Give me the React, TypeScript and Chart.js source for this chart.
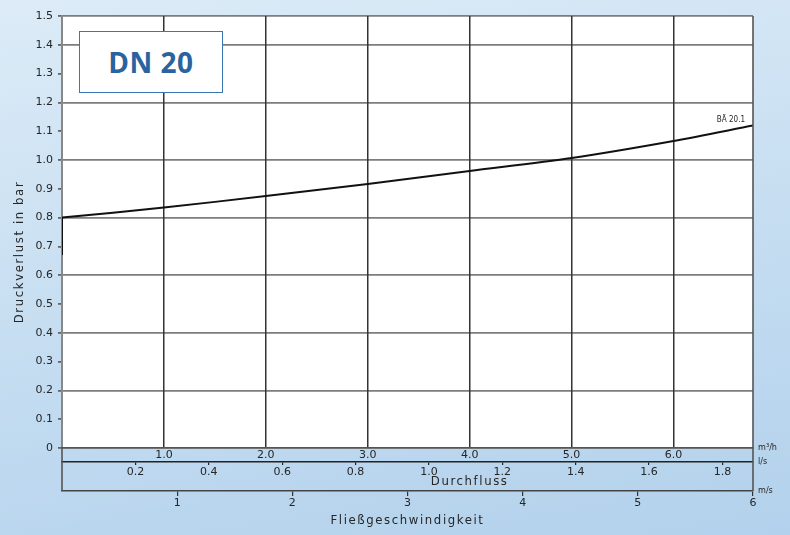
import React, { useEffect, useRef } from "react";
import { Chart, registerables } from "chart.js";

Chart.register(...registerables);

// ---- data ----
const curveFlowM3h = [0, 1, 2, 3, 4, 5, 6, 6.78];
const curvePressureBar = [0.8, 0.835, 0.875, 0.917, 0.962, 1.007, 1.066, 1.12];
const startFlowM3h = [0, 0];
const startPressureBar = [0.67, 0.8];
const curveLabel = "BÄ 20.1";

const pressureTicks = [0, 0.1, 0.2, 0.3, 0.4, 0.5, 0.6, 0.7, 0.8, 0.9, 1.0, 1.1, 1.2, 1.3, 1.4, 1.5];
const flowM3hTicks = [1, 2, 3, 4, 5, 6];
const flowLsTicks = [0.2, 0.4, 0.6, 0.8, 1.0, 1.2, 1.4, 1.6, 1.8];
const velocityTicks = [1, 2, 3, 4, 5, 6];

const flowM3hMax = 6.78;
const velocityMax = 6;

const title = "DN 20";
const yTitle = "Druckverlust in bar";
const flowTitle = "Durchfluss";
const velocityTitle = "Fließgeschwindigkeit";
const unitM3h = "m³/h";
const unitLs = "l/s";
const unitMs = "m/s";

const FONT = "'DejaVu Sans Condensed', 'DejaVu Sans', sans-serif";
const TICK_FONT = "'DejaVu Sans', sans-serif";
const TEXT = "#262626";

const setTicks = (arr: number[]) => (scale: any) => {
  scale.ticks = arr.map((v) => ({ value: v }));
};

const decorPlugin = {
  id: "decor",
  beforeDraw(chart: any) {
    const { ctx, chartArea } = chart;
    ctx.save();
    ctx.fillStyle = "#ffffff";
    ctx.fillRect(chartArea.left, chartArea.top, chartArea.right - chartArea.left, chartArea.bottom - chartArea.top);
    ctx.restore();
  },
  afterDraw(chart: any) {
    const { ctx, chartArea, scales } = chart;
    const x = scales.x, x2 = scales.x2, x3 = scales.x3;
    const midX = (chartArea.left + chartArea.right) / 2;
    const midY = (chartArea.top + chartArea.bottom) / 2;
    ctx.save();
    // side borders extending through the secondary axes
    ctx.strokeStyle = "#555";
    ctx.lineWidth = 1.6;
    ctx.beginPath();
    ctx.moveTo(chartArea.left, chartArea.bottom);
    ctx.lineTo(chartArea.left, x3.top);
    ctx.moveTo(chartArea.right, chartArea.top);
    ctx.lineTo(chartArea.right, x3.top);
    ctx.stroke();

    // units
    ctx.fillStyle = TEXT;
    ctx.font = `9px ${FONT}`;
    ctx.textAlign = "left";
    ctx.textBaseline = "middle";
    ctx.fillText(unitM3h, chartArea.right + 5, x.top);
    ctx.fillText(unitLs, chartArea.right + 5, x2.top);
    ctx.fillText(unitMs, chartArea.right + 5, x3.top);

    // axis titles (letter-spaced technical lettering)
    ctx.font = `13px ${FONT}`;
    (ctx as any).letterSpacing = "1.6px";
    ctx.textAlign = "center";
    ctx.fillText(flowTitle, chartArea.left + (chartArea.right - chartArea.left) * 0.59, x2.bottom - 9);
    ctx.fillText(velocityTitle, midX, x3.bottom - 14);
    ctx.save();
    ctx.translate(20, midY + 20);
    ctx.rotate(-Math.PI / 2);
    ctx.fillText(yTitle, 0, 0);
    ctx.restore();
    (ctx as any).letterSpacing = "0px";

    // curve label
    const meta = chart.getDatasetMeta(0);
    const last = meta.data[meta.data.length - 1];
    ctx.font = `8px ${FONT}`;
    ctx.textAlign = "right";
    ctx.textBaseline = "alphabetic";
    ctx.fillText(curveLabel, last.x - 8, last.y - 3);
    ctx.restore();
  },
};

export default function App() {
  const ref = useRef<HTMLCanvasElement>(null);

  useEffect(() => {
    if (!ref.current) return;
    const chart = new Chart(ref.current, {
      type: "line",
      data: {
        datasets: [
          {
            data: curveFlowM3h.map((v, i) => ({ x: v, y: curvePressureBar[i] })),
            borderColor: "#111",
            borderWidth: 2,
            pointRadius: 0,
            tension: 0.3,
            xAxisID: "x",
            yAxisID: "y",
          },
          {
            data: startFlowM3h.map((v, i) => ({ x: v, y: startPressureBar[i] })),
            borderColor: "#111",
            borderWidth: 2,
            pointRadius: 0,
            xAxisID: "x",
            yAxisID: "y",
          },
        ],
      },
      options: {
        responsive: false,
        animation: false,
        layout: { padding: { left: 0, top: 16, right: 37, bottom: 0 } },
        plugins: { legend: { display: false }, tooltip: { enabled: false } },
        scales: {
          y: {
            type: "linear",
            position: "left",
            min: 0,
            max: 1.5,
            afterBuildTicks: setTicks(pressureTicks),
            afterFit: (s: any) => {
              s.width = 62;
            },
            ticks: {
              color: TEXT,
              padding: 5,
              font: { family: TICK_FONT, size: 11 },
              callback: (v: any) => (v === 0 ? "0" : Number(v).toFixed(1)),
            },
            grid: {
              color: (c: any) => {
                const k = Math.round(c.tick.value * 10);
                return k % 2 === 0 || k === 15 ? "#7d7d7d" : "rgba(0,0,0,0)";
              },
              lineWidth: 1.8,
              tickLength: 4,
              tickColor: "#666",
            },
            border: { color: "#888", width: 2 },
          },
          x: {
            type: "linear",
            position: "bottom",
            weight: 0,
            min: 0,
            max: flowM3hMax,
            afterBuildTicks: setTicks(flowM3hTicks),
            afterFit: (s: any) => {
              s.height = 14;
            },
            ticks: {
              color: TEXT,
              padding: 1,
              maxRotation: 0,
              font: { family: TICK_FONT, size: 11 },
              callback: (v: any) => Number(v).toFixed(1),
            },
            grid: { color: "#333", lineWidth: 1.5, drawTicks: false },
            border: { color: "#555", width: 1.5 },
          },
          x2: {
            type: "linear",
            position: "bottom",
            weight: 1,
            min: 0,
            max: flowM3hMax / 3.6,
            afterBuildTicks: setTicks(flowLsTicks),
            afterFit: (s: any) => {
              s.height = 29;
            },
            ticks: {
              color: TEXT,
              padding: 1,
              maxRotation: 0,
              autoSkip: false,
              font: { family: TICK_FONT, size: 11 },
              callback: (v: any) => Number(v).toFixed(1),
            },
            grid: { drawOnChartArea: false, tickLength: 3, color: "#222", lineWidth: 1.2 },
            border: { color: "#222", width: 1.5 },
          },
          x3: {
            type: "linear",
            position: "bottom",
            weight: 2,
            min: 0,
            max: velocityMax,
            afterBuildTicks: setTicks(velocityTicks),
            afterFit: (s: any) => {
              s.height = 44;
            },
            ticks: {
              color: TEXT,
              padding: 1,
              maxRotation: 0,
              font: { family: TICK_FONT, size: 11 },
              callback: (v: any) => String(v),
            },
            grid: { drawOnChartArea: false, tickLength: 5, color: "#333", lineWidth: 1.2 },
            border: { color: "#444", width: 1.5 },
          },
        },
      },
      plugins: [decorPlugin],
    });
    return () => chart.destroy();
  }, []);

  return (
    <div
      style={{
        position: "fixed",
        left: 0,
        top: 0,
        width: 790,
        height: 535,
        overflow: "hidden",
        background:
          "linear-gradient(170deg, #dcebf7 0%, #cde2f3 35%, #c0daf0 65%, #b3d1ec 100%)",
      }}
    >
      <canvas ref={ref} width={790} height={535} style={{ display: "block", width: 790, height: 535 }} />
      <div
        style={{
          position: "absolute",
          left: 79,
          top: 31,
          width: 142,
          height: 60,
          background: "#fff",
          border: "1.5px solid #3a76b0",
          display: "flex",
          alignItems: "center",
          justifyContent: "center",
          fontFamily: "'Open Sans', sans-serif",
          fontWeight: 700,
          fontSize: 28,
          color: "#2a64a0",
          letterSpacing: 0.5,
        }}
      >
        {title}
      </div>
    </div>
  );
}
